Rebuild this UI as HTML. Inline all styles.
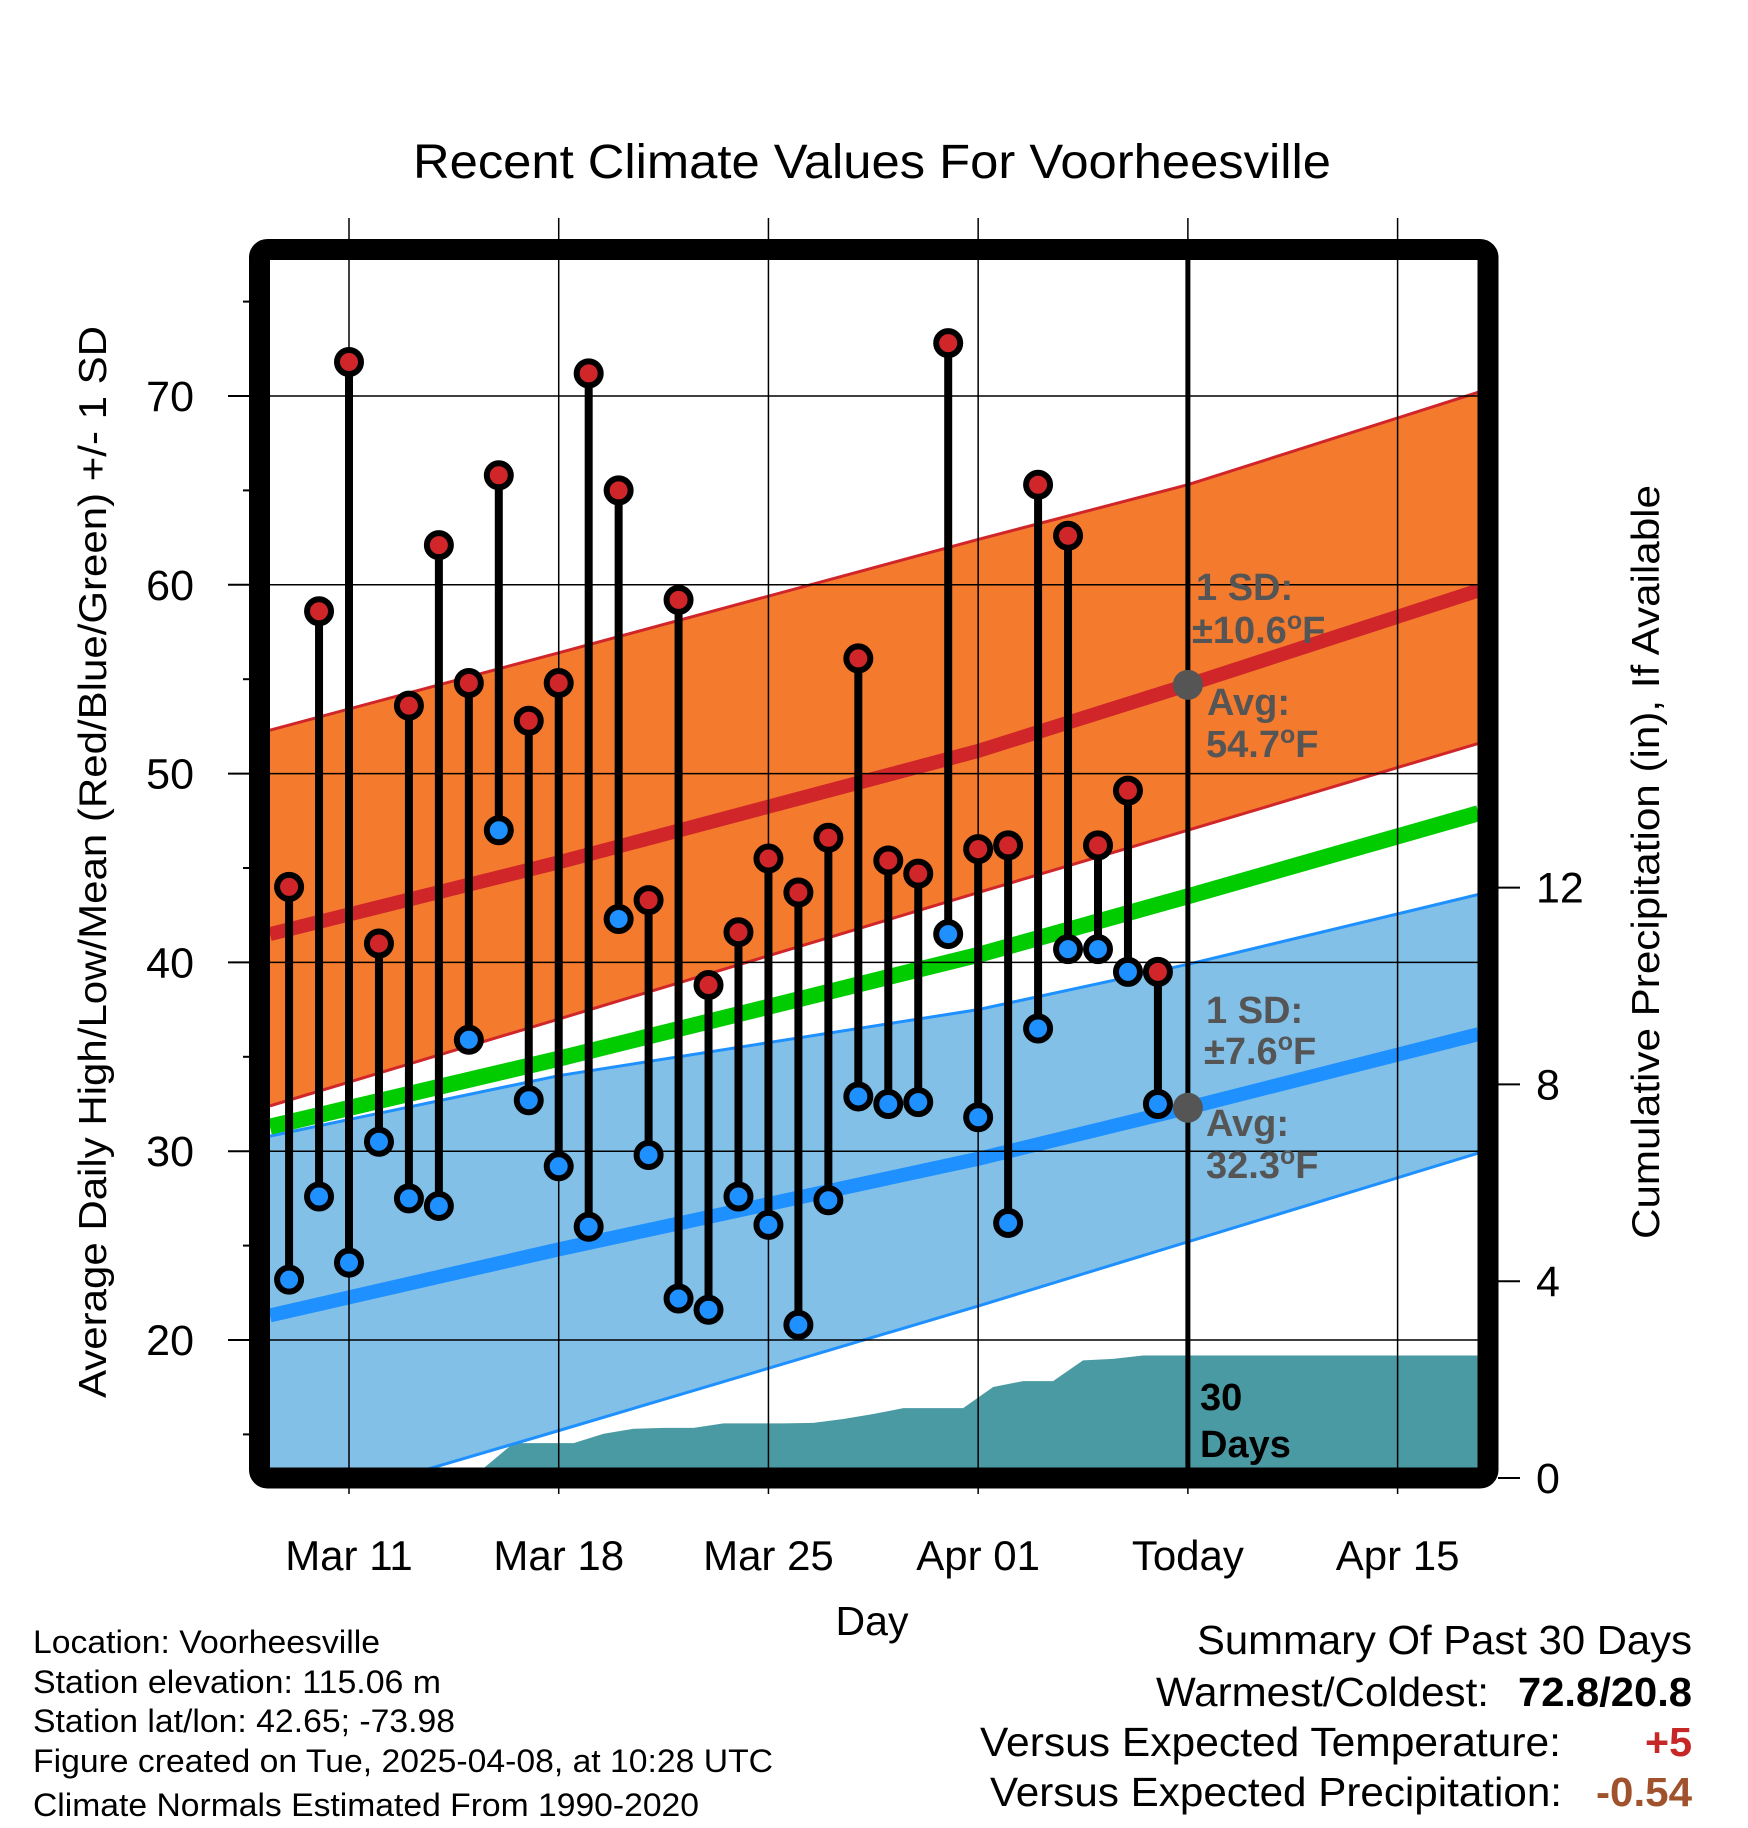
<!DOCTYPE html>
<html><head><meta charset="utf-8"><style>
html,body{margin:0;padding:0;background:#fff;}
svg{display:block;font-family:"Liberation Sans",Arial,sans-serif;}
</style></head><body>
<svg id="chart" width="1748" height="1828" viewBox="0 0 1748 1828" xmlns="http://www.w3.org/2000/svg">
<defs><clipPath id="plotclip"><rect x="270" y="260" width="1208" height="1208"/></clipPath></defs>
<text x="872" y="178" font-size="48" text-anchor="middle" textLength="918" lengthAdjust="spacingAndGlyphs">Recent Climate Values For Voorheesville</text>
<g id="plot" clip-path="url(#plotclip)"></g>
<g id="axes"></g>
<text transform="translate(106,862) rotate(-90)" font-size="39" text-anchor="middle" textLength="1072" lengthAdjust="spacingAndGlyphs">Average Daily High/Low/Mean (Red/Blue/Green) +/- 1 SD</text>
<text transform="translate(1659,862) rotate(-90)" font-size="39" text-anchor="middle" textLength="754" lengthAdjust="spacingAndGlyphs">Cumulative Precipitation (in), If Available</text>
<text x="872" y="1635" font-size="41" text-anchor="middle">Day</text>
<g font-size="32">
<text x="33" y="1653" textLength="347" lengthAdjust="spacingAndGlyphs">Location: Voorheesville</text>
<text x="33" y="1693" textLength="408" lengthAdjust="spacingAndGlyphs">Station elevation: 115.06 m</text>
<text x="33" y="1732" textLength="422" lengthAdjust="spacingAndGlyphs">Station lat/lon: 42.65; -73.98</text>
<text x="33" y="1772" textLength="740" lengthAdjust="spacingAndGlyphs">Figure created on Tue, 2025-04-08, at 10:28 UTC</text>
<text x="33" y="1816" textLength="666" lengthAdjust="spacingAndGlyphs">Climate Normals Estimated From 1990-2020</text>
</g>
<g font-size="41">
<text x="1197" y="1654" textLength="495" lengthAdjust="spacingAndGlyphs">Summary Of Past 30 Days</text>
<text x="1156" y="1706" textLength="333" lengthAdjust="spacingAndGlyphs">Warmest/Coldest:</text>
<text x="1518" y="1706" font-weight="bold" textLength="174" lengthAdjust="spacingAndGlyphs">72.8/20.8</text>
<text x="980" y="1756" textLength="581" lengthAdjust="spacingAndGlyphs">Versus Expected Temperature:</text>
<text x="1645" y="1756" font-weight="bold" fill="#c62828" textLength="47" lengthAdjust="spacingAndGlyphs">+5</text>
<text x="990" y="1806" textLength="572" lengthAdjust="spacingAndGlyphs">Versus Expected Precipitation:</text>
<text x="1596" y="1806" font-weight="bold" fill="#a0522d" textLength="96" lengthAdjust="spacingAndGlyphs">-0.54</text>
</g>
</svg>
<script>
// day offsets relative to Mar 11
const days = [-2,-1,0,1,2,3,4,5,6,7,8,9,10,11,12,13,14,15,16,17,18,19,20,21,22,23,24,25,26,27];
const highs = [44.0,58.6,71.8,41.0,53.6,62.1,54.8,65.8,52.8,54.8,71.2,65.0,43.3,59.2,38.8,41.6,45.5,43.7,46.6,56.1,45.4,44.7,72.8,46.0,46.2,65.3,62.6,46.2,49.1,39.5];
const lows = [23.2,27.6,24.1,30.5,27.5,27.1,35.9,47.0,32.7,29.2,26.0,42.3,29.8,22.2,21.6,27.6,26.1,20.8,27.4,32.9,32.5,32.6,41.5,31.8,26.2,36.5,40.7,40.7,39.5,32.5];
const normDays = [-2.64,7,21,28,37.7];
const normHigh = [41.5,45.3,51.2,54.7,59.7];
const normHighUp = [52.3,56.4,62.4,65.3,70.2];
const normHighLo = [32.4,37.0,43.7,47.0,51.6];
const normMean = [31.3,34.9,40.4,43.5,47.9];
const normLow = [21.3,24.8,29.6,32.3,36.2];
const normLowUp = [30.8,34.0,37.5,39.9,43.6];
const normLowLo = [10.7,15.2,21.8,25.2,29.9];
const precipDays = [3.6,5,6,7,8,9,10,11,12,13,14,15,16,17,18,19,20,21,22,23,24,25,26,27,37.7];
const precip = [0,0.71,0.71,0.71,0.9,1.0,1.02,1.02,1.11,1.11,1.11,1.12,1.2,1.3,1.42,1.42,1.42,1.85,1.97,1.97,2.39,2.42,2.49,2.49,2.49];
const xTickDays = [0,7,14,21,28,35];
const xTickLabels = ["Mar 11","Mar 18","Mar 25","Apr 01","Today","Apr 15"];
const yTicks = [20,30,40,50,60,70];
const y2Ticks = [0,4,8,12];
const todayDay = 28;

const NS="http://www.w3.org/2000/svg";
const X = d => 349 + d*29.96;
const Y = v => 1340 - (v-20)*18.88;
const Y2 = p => 1478 - p*49.2;
function el(tag, attrs, parent){const e=document.createElementNS(NS,tag);for(const k in attrs)e.setAttribute(k,attrs[k]);parent.appendChild(e);return e;}
const plot=document.getElementById('plot'), axes=document.getElementById('axes');
const pts=(ds,vs)=>ds.map((d,i)=>X(d)+','+Y(vs[i])).join(' ');
function band(up,lo,fill,name){
  const p=el('polygon',{points:pts(normDays,up)+' '+pts(normDays.slice().reverse(),lo.slice().reverse()),fill:fill},plot);
  
  
}
band(normHighUp,normHighLo,'#f47a2e','high-sd-band');
band(normLowUp,normLowLo,'#82c0e8','low-sd-band');
let pp='';precipDays.forEach((d,i)=>{pp+=X(d+0.5)+','+Y2(precip[i])+' ';});
const pa=el('polygon',{points:X(precipDays[0]+0.5)+','+1480+' '+pp+' '+1480+','+1480,fill:'#4a9aa4'},plot);


function line(vs,color,w,name){
  const l=el('polyline',{points:pts(normDays,vs),fill:'none',stroke:color,'stroke-width':w},plot);
  
  
}
line(normHighUp,'#d0262a',3,'high-sd-upper');
line(normHighLo,'#d0262a',3,'high-sd-lower');
line(normLowUp,'#1e90ff',3,'low-sd-upper');
line(normLowLo,'#1e90ff',3,'low-sd-lower');
line(normMean,'#00cc00',16,'mean-normal-line');
line(normHigh,'#d0262a',14,'high-normal-line');
line(normLow,'#1e90ff',14,'low-normal-line');
yTicks.forEach(v=>{const g=el('line',{x1:270,x2:1478,y1:Y(v),y2:Y(v),stroke:'#000','stroke-width':1.5},plot);

});
xTickDays.forEach(d=>{const g=el('line',{x1:X(d),x2:X(d),y1:218,y2:1494,stroke:'#000','stroke-width':1.5},axes);

});
const tl=el('line',{x1:X(todayDay),x2:X(todayDay),y1:260,y2:1468,stroke:'#000','stroke-width':5},axes);


days.forEach((d,i)=>{
  const s=el('line',{x1:X(d),x2:X(d),y1:Y(highs[i]),y2:Y(lows[i]),stroke:'#000','stroke-width':8},axes);
  
  
});
days.forEach((d,i)=>{
  const h=el('circle',{cx:X(d),cy:Y(highs[i]),r:12,fill:'#d0262a',stroke:'#000','stroke-width':6},axes);
  
  
  const l=el('circle',{cx:X(d),cy:Y(lows[i]),r:12,fill:'#1e90ff',stroke:'#000','stroke-width':6},axes);
  
  
});
[[normHigh,'today-high-avg-marker'],[normLow,'today-low-avg-marker']].forEach(([arr,nm])=>{
  const c=el('circle',{cx:X(todayDay),cy:Y(arr[3]),r:15,fill:'#555'},axes);
  
  
});
const fr=el('rect',{x:259.5,y:249.5,width:1228.5,height:1228.5,rx:8,fill:'none',stroke:'#000','stroke-width':21},axes);


for(let v=15;v<=75;v+=5){const major=v%10===0;
 const t=el('line',{x1:major?228:243,x2:249,y1:Y(v),y2:Y(v),stroke:'#000','stroke-width':2},axes);
 
 }
yTicks.forEach(v=>{const t=el('text',{x:194,y:Y(v)+15,'font-size':43,'text-anchor':'end'},axes);t.textContent=v;

});
y2Ticks.forEach(p=>{const tk=el('line',{x1:1498,x2:1520,y1:Y2(p),y2:Y2(p),stroke:'#000','stroke-width':2},axes);


const t=el('text',{x:1536,y:Y2(p)+15,'font-size':43},axes);t.textContent=p;

});
xTickDays.forEach((d,i)=>{const t=el('text',{x:X(d),y:1570,'font-size':42,'text-anchor':'middle'},axes);t.textContent=xTickLabels[i];

});
function ann(x,y,txt,col,name,deg){const t=el('text',{x:x,y:y,'font-size':38,'font-weight':'bold',fill:col},axes);
 if(deg){t.textContent=txt;const s=el('tspan',{dy:-14,'font-size':25},t);s.textContent='o';const f=el('tspan',{dy:14},t);f.textContent='F';}
 else t.textContent=txt;
 
 }
ann(1196,600,'1 SD:','#555','high-sd-label');
ann(1192,643,'±10.6','#555','high-sd-value',true);
ann(1207,715,'Avg:','#555','high-avg-label');
ann(1206,757,'54.7','#555','high-avg-value',true);
ann(1206,1023,'1 SD:','#555','low-sd-label');
ann(1204,1064,'±7.6','#555','low-sd-value',true);
ann(1206,1136,'Avg:','#555','low-avg-label');
ann(1206,1178,'32.3','#555','low-avg-value',true);
ann(1200,1410,'30','#000','precip-days-label');
ann(1200,1457,'Days','#000','precip-days-label-2');
</script>
</body></html>
